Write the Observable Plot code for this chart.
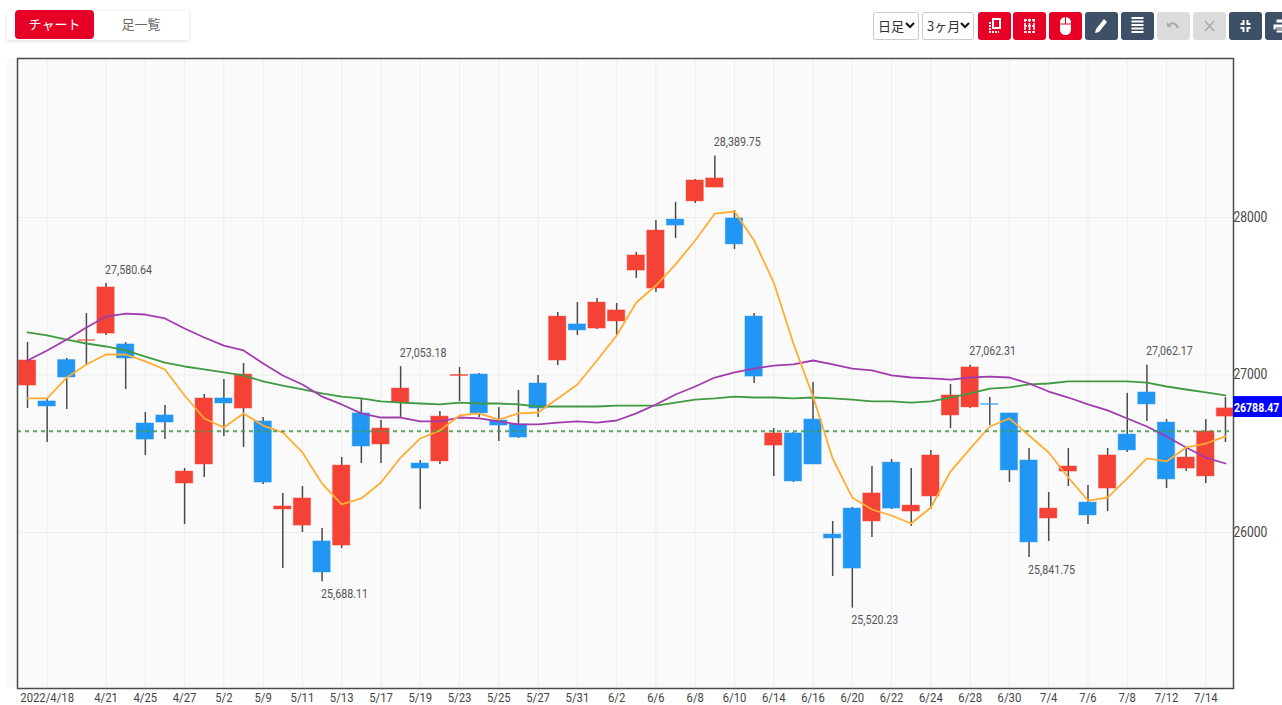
<!DOCTYPE html>
<html lang="ja">
<head>
<meta charset="utf-8">
<script src="https://cdn.jsdelivr.net/npm/d3@7"></script>
<script src="https://cdn.jsdelivr.net/npm/@observablehq/plot@0.6"></script>
<style>
html,body{margin:0;padding:0;background:#fff;overflow:hidden;width:1282px;height:705px}
#page{position:relative;width:1282px;height:705px;overflow:hidden}
#toolbar{position:absolute;left:0;top:0;width:1282px;height:57px;font-family:"Noto Sans CJK JP","Noto Sans",sans-serif}
#tabs{position:absolute;left:7px;top:11px;width:182px;height:29px;background:#fff;box-shadow:0 1px 4px rgba(0,0,0,.14)}
.tab{position:absolute;top:-1px;height:29px;line-height:28px;font-size:13px;text-align:center;border-radius:4px}
.on{left:8px;width:79px;background:#e60026;color:#fff}
.off{left:94px;width:80px;color:#666}
.sel{position:absolute;top:12px;height:26px;border:1px solid #ccc;background:#fff;border-radius:2px;font-size:13px;line-height:25px;color:#333;padding-left:4px}
.sel svg{position:absolute;right:3px;top:9px}
.btn{position:absolute;top:12px;width:33px;height:28px;border-radius:3px}
.btn svg{position:absolute;left:0;top:0}
#strip{position:absolute;left:7px;top:58px;width:12px;height:630px;background:#fafafa}
#chart{position:absolute;left:0;top:57px}
#chart svg{display:block;overflow:visible}
</style>
</head>
<body>
<div id="page">
  <div id="toolbar">
    <div id="tabs"><div class="tab on">チャート</div><div class="tab off">足一覧</div></div>
    <div class="sel" style="left:873px;width:40px">日足<svg width="10" height="7" viewBox="0 0 10 7"><path d="M1 1l4 4 4-4" fill="none" stroke="#111" stroke-width="2"/></svg></div>
    <div class="sel" style="left:922px;width:46px">3ヶ月<svg width="10" height="7" viewBox="0 0 10 7"><path d="M1 1l4 4 4-4" fill="none" stroke="#111" stroke-width="2"/></svg></div>
    <div class="btn" style="left:978px;background:#e60026"><svg width="33" height="28"><path d="M15 7h7v9h-7z" fill="none" stroke="#fff" stroke-width="2"/><path d="M12 10v10h9" fill="none" stroke="#fff" stroke-width="2" stroke-dasharray="2 1"/></svg></div>
    <div class="btn" style="left:1013px;background:#e60026"><svg width="33" height="28"><path d="M11 8h11M11 14h11M11 20h11M12 7v14M16.500 7v14M21 7v14" fill="none" stroke="#fff" stroke-width="1.600" stroke-dasharray="3 1"/></svg></div>
    <div class="btn" style="left:1049px;background:#e60026"><svg width="33" height="28"><rect x="11" y="5" width="11" height="18" rx="5.500" fill="#fff"/><path d="M11 12h11M16.500 5v7" stroke="#e60026" stroke-width="1"/></svg></div>
    <div class="btn" style="left:1085px;background:#3d5068"><svg width="33" height="28"><path d="M10 21l1-4 8-10 3 3-8 10z" fill="#fff"/></svg></div>
    <div class="btn" style="left:1121px;background:#3d5068"><svg width="33" height="28"><path d="M10.500 6h12M10.500 9.500h12M10.500 13h12M10.500 16.500h12M10.500 20h12" stroke="#fff" stroke-width="2"/></svg></div>
    <div class="btn" style="left:1157px;background:#dcdcdc"><svg width="33" height="28"><path d="M10 10v5h5z" fill="#aaa"/><path d="M12 13c3-3 7-2 9 3" fill="none" stroke="#aaa" stroke-width="2"/></svg></div>
    <div class="btn" style="left:1193px;background:#dcdcdc"><svg width="33" height="28"><path d="M12 9l9 10M21 9l-9 10" stroke="#aaa" stroke-width="1.500"/></svg></div>
    <div class="btn" style="left:1229px;background:#3d5068"><svg width="33" height="28"><path d="M14.500 8v4h-3M18.500 8v4h3M14.500 20v-4h-3M18.500 20v-4h3" fill="none" stroke="#fff" stroke-width="2"/></svg></div>
    <div class="btn" style="left:1265px;background:#3d5068"><svg width="33" height="28"><path d="M11 7h11v4H11zM8 12h17v6H8zM11 16h11v5H11z" fill="#fff" stroke="#3d5068"/></svg></div>
  </div>
  <div id="strip"></div>
  <div id="chart"></div>
</div>
<script>
const opens  = [26933,26832,27095,27217,27263,27194,26692,26743,26311,26432,26851,26787,26705,26146,26044,25943,25917,26756,26559,26825,26438,26451,26994,27003,26711,26686,26946,27092,27321,27295,27340,27663,27549,27987,28102,28190,27994,27371,26552,26629,26717,25987,26152,26070,26444,26133,26229,26743,26794,26815,26756,26457,26089,26387,26190,26279,26622,26889,26698,26406,26356,26736];
const closes = [27092,26800,26984,27221,27556,27105,26590,26698,26387,26851,26819,27003,26317,26165,26216,25746,26425,26546,26660,26914,26406,26736,27000,26756,26679,26603,26787,27371,27283,27460,27410,27759,27917,27949,28235,28248,27829,26990,26629,26324,26432,25962,25771,26248,26152,26171,26489,26870,27048,26811,26394,25937,26152,26419,26108,26489,26521,26813,26337,26476,26641,26788];
const highs  = [27206,26851,27105,27390,27581,27206,26762,26806,26406,26876,26971,27073,26730,26248,26292,26025,26476,26844,26711,27053,26457,26768,27048,27010,26794,26902,26997,27397,27460,27486,27454,27778,27981,28095,28241,28390,28044,27390,26660,26635,26952,26070,26159,26419,26463,26406,26521,26940,27062,26857,26756,26533,26254,26533,26298,26533,26883,27062,26717,26540,26717,26857];
const lows   = [26787,26571,26781,27060,27251,26908,26489,26590,26051,26349,26610,26540,26305,25771,26000,25688,25898,26438,26438,26730,26146,26432,26832,26730,26578,26597,26730,27060,27251,27289,27251,27613,27524,27867,28089,28190,27797,26946,26356,26317,26432,25721,25520,25968,26146,26038,26146,26660,26787,26679,26317,25842,25943,26292,26051,26133,26508,26705,26279,26387,26311,26571];

const maShort = [26851,26851,26984,27067,27130,27130,27086,27035,26870,26724,26667,26756,26679,26635,26508,26311,26178,26216,26317,26476,26597,26648,26743,26756,26717,26756,26762,26851,26940,27092,27251,27460,27568,27702,27854,28025,28038,27854,27587,27200,26863,26470,26222,26146,26108,26057,26159,26387,26533,26673,26724,26616,26508,26349,26203,26222,26343,26470,26451,26540,26565,26610];
const maMid   = [27092,27156,27225,27302,27371,27390,27384,27359,27295,27238,27187,27156,27073,26997,26940,26863,26813,26756,26730,26730,26705,26705,26730,26724,26705,26686,26686,26698,26705,26698,26711,26756,26813,26876,26927,26984,27016,27041,27060,27067,27092,27067,27041,27029,26997,26984,26978,26971,26984,26990,26984,26946,26895,26857,26813,26775,26724,26673,26610,26540,26476,26438];
const maLong  = [27270,27251,27225,27200,27181,27156,27117,27079,27054,27035,27016,26997,26959,26933,26908,26883,26863,26851,26832,26825,26819,26813,26825,26819,26819,26813,26800,26800,26800,26800,26806,26806,26806,26825,26844,26851,26863,26857,26857,26851,26857,26851,26844,26832,26832,26825,26832,26857,26883,26914,26921,26940,26946,26959,26959,26959,26959,26952,26927,26908,26889,26870];

const tickIndexes = [1,4,6,8,10,12,14,16,18,20,22,24,26,28,30,32,34,36,38,40,42,44,46,48,50,52,54,56,58,60];
const tickLabels  = ["2022/4/18","4/21","4/25","4/27","5/2","5/9","5/11","5/13","5/17","5/19","5/23","5/25","5/27","5/31","6/2","6/6","6/8","6/10","6/14","6/16","6/20","6/22","6/24","6/28","6/30","7/4","7/6","7/8","7/12","7/14"];
const priceTicks  = [26000,27000,28000];

const peakIndexes   = [4,19,35,48,57];
const peakValues    = [27580.64,27053.18,28389.75,27062.31,27062.17];
const troughIndexes = [15,42,51];
const troughValues  = [25688.11,25520.23,25841.75];

const referenceLine = 26643;
const lastPrice = 26788.47;

const RED = "#f44336", BLUE = "#2196f3";
const FONT = 'Roboto,sans-serif';
const candles = opens.map((o,i)=>({i,o,c:closes[i],h:highs[i],l:lows[i],up:closes[i]>=o}));
const series = (arr)=>arr.map((v,i)=>({i,v}));
const fmt = d3.format(",.2f");
const labelIdx = new Map(tickIndexes.map((d,k)=>[d,tickLabels[k]]));

const chart = Plot.plot({
  width:1282, height:648,
  marginLeft:17, marginRight:49, marginTop:1, marginBottom:17,
  style:{background:"transparent",fontFamily:FONT,fontSize:"12px",color:"#444"},
  x:{type:"linear",domain:[-0.509,61.41]},
  y:{domain:[25009.5,29009.5]},
  marks:[
    Plot.rect([0],{x1:-0.509,x2:61.41,y1:25009.5,y2:29009.5,fill:"#fafafa"}),
    Plot.ruleX(tickIndexes,{stroke:"#eeeeee",strokeWidth:1}),
    Plot.ruleY(priceTicks,{stroke:"#eeeeee",strokeWidth:1}),
    Plot.ruleX(candles,{x:"i",y1:"l",y2:"h",stroke:"#4a4a4a",strokeWidth:1.5}),
    Plot.rect(candles,{x1:d=>d.i-0.44,x2:d=>d.i+0.44,y1:"o",y2:"c",
      fill:d=>d.up?RED:BLUE,stroke:d=>d.up?RED:BLUE,strokeOpacity:0.45,strokeWidth:1}),
    Plot.line(series(maLong),{x:"i",y:"v",stroke:"#3f9a43",strokeWidth:1.8}),
    Plot.line(series(maMid),{x:"i",y:"v",stroke:"#a23cae",strokeWidth:1.8}),
    Plot.line(series(maShort),{x:"i",y:"v",stroke:"#ffad33",strokeWidth:1.8}),
    Plot.ruleY([referenceLine],{stroke:"#3f9a43",strokeWidth:2,strokeDasharray:"4 4",strokeOpacity:0.85}),
    Plot.text(peakIndexes,{x:d=>d,y:(d,k)=>peakValues[k],text:(d,k)=>fmt(peakValues[k]),dx:-1,dy:-14,textAnchor:"start",fill:"#555",fontSize:13}),
    Plot.text(troughIndexes,{x:d=>d,y:(d,k)=>troughValues[k],text:(d,k)=>fmt(troughValues[k]),dx:-1,dy:12,textAnchor:"start",fill:"#555",fontSize:13}),
    Plot.frame({stroke:"#4a4a4a",strokeWidth:1.5}),
    Plot.axisX(tickIndexes,{anchor:"bottom",tickSize:0,tickPadding:5,tickFormat:d=>labelIdx.get(d),fill:"#444",fontSize:12,label:null}),
    Plot.axisY(priceTicks,{anchor:"right",tickSize:0,tickPadding:0,tickFormat:d=>String(d),fill:"#444",fontSize:14,label:null}),
    Plot.rect([lastPrice],{x1:61.41,x2:63.92,y1:26863,y2:26730,fill:"#0000ff"}),
    Plot.text([lastPrice],{x:61.41,y:d=>d,text:d=>d.toFixed(2),dx:0.5,dy:-1,textAnchor:"start",fill:"#fff",fontSize:13.5,fontWeight:"bold"})
  ]
});
document.getElementById("chart").appendChild(chart);

// The reference's text is narrower than any installed face: condense the real text.
chart.querySelectorAll("text").forEach(t=>{
  const cs = getComputedStyle(t);
  const size = parseFloat(cs.fontSize);
  const bold = parseInt(cs.fontWeight) >= 600;
  const factor = bold ? 0.78 : size === 12 ? 0.94 : size === 13 ? 0.82 : 0.86;
  const len = t.getComputedTextLength();
  if (len > 0) {
    t.setAttribute("textLength", (len*factor).toFixed(1));
    t.setAttribute("lengthAdjust","spacingAndGlyphs");
  }
});
</script>
</body>
</html>
